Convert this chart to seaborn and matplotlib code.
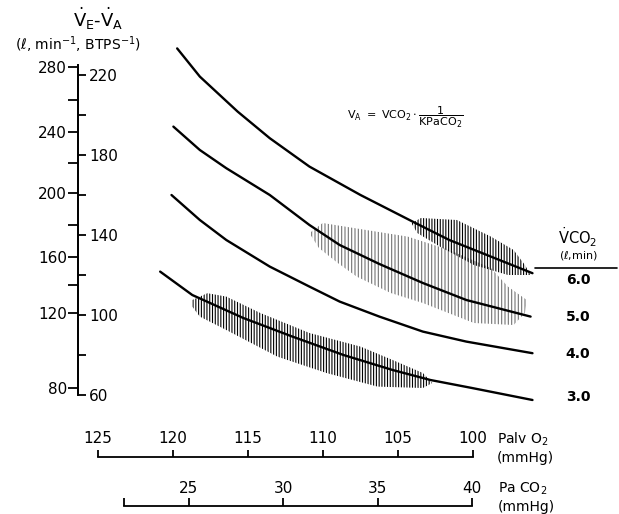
import numpy as np
import pandas as pd
import matplotlib.pyplot as plt
import seaborn as sns

# isopleths VA = VCO2 / (K * PaCO2)
# x = PaCO2 (mmHg), y = alveolar ventilation VA (l/min)
vco2_levels = ['6.0', '5.0', '4.0', '3.0']
paco2_60 = [24.4, 25.6, 27.6, 29.3, 31.4, 34.1, 36.9, 38.8, 41.0, 43.2]
va_60 = [233.3, 219.2, 201.7, 188.4, 174.2, 160.0, 146.5, 137.5, 129.2, 120.9]
paco2_50 = [24.2, 25.6, 27.0, 29.3, 31.4, 33.0, 35.1, 37.4, 39.7, 43.1]
va_50 = [194.2, 182.5, 173.4, 160.0, 145.0, 135.0, 125.5, 116.0, 107.5, 99.2]
paco2_40 = [24.1, 25.6, 27.0, 29.3, 31.4, 33.0, 35.1, 37.4, 39.7, 43.2]
va_40 = [160.0, 147.5, 137.5, 124.2, 114.2, 106.7, 99.2, 91.7, 86.7, 80.9]
paco2_30 = [23.5, 25.2, 27.9, 30.5, 33.2, 35.8, 37.8, 40.0, 43.2]
va_30 = [121.7, 110.0, 98.5, 89.2, 80.0, 72.5, 67.5, 63.5, 57.5]

# hatched data clouds (outlines)
cloud_low_x = [25.2, 26.0, 27.0, 28.8, 31.4, 34.1, 35.8, 37.4, 37.9, 37.4, 35.0, 32.3, 29.7, 27.0, 25.6, 25.2]
cloud_low_y = [107.5, 110.9, 109.2, 101.0, 91.0, 84.2, 77.5, 71.0, 66.0, 63.5, 64.2, 71.0, 79.2, 92.5, 99.2, 104.2]
cloud_mid_x = [31.4, 32.1, 34.4, 36.6, 38.8, 41.0, 41.9, 42.9, 42.8, 42.2, 40.1, 37.4, 35.7, 33.9, 32.9, 31.9]
cloud_mid_y = [140.9, 146.0, 142.5, 139.2, 132.5, 123.5, 114.2, 107.5, 101.0, 95.0, 96.0, 106.0, 111.0, 119.2, 126.0, 133.5]
cloud_top_x = [36.8, 37.3, 39.2, 41.0, 42.2, 42.8, 43.1, 41.9, 40.1, 38.3, 37.1]
cloud_top_y = [145.9, 148.5, 147.5, 139.2, 132.5, 125.0, 120.0, 120.0, 125.0, 134.2, 141.0]

# scales
va_ticks = [60, 100, 140, 180, 220]
va_minor = [80, 120, 160, 200]
ve_ticks = [80, 120, 160, 200, 240, 280]
ve_on_va = [63.5, 101.0, 129.0, 161.0, 191.5, 224.0]
ve_minor = [140, 180, 220, 260]
palv_ticks = [125, 120, 115, 110, 105, 100]
paco2_ticks = [25, 30, 35, 40]

sns.set_style('white', rc={'axes.edgecolor': 'black', 'text.color': 'black',
                           'xtick.color': 'black', 'ytick.color': 'black'})
plt.rcParams['font.family'] = ['DejaVu Sans']
plt.rcParams['hatch.linewidth'] = 0.8

W, H = 619, 514
fig = plt.figure(figsize=(W / 100, H / 100), dpi=100)


# pixel calibration of the drawing
def to_x(px):
    return 40 + (px - 472) / 18.9


def to_y(py):
    return 100 + (315 - py) / 2


def palv_pos(p):
    return to_x(473 + (100 - p) * 15)


xlim = (to_x(0), to_x(W))
ylim = (to_y(H), to_y(0))


def layer():
    a = fig.add_axes([0, 0, 1, 1])
    a.patch.set_visible(False)
    for s in a.spines.values():
        s.set_visible(False)
    a.set_xticks([])
    a.set_yticks([])
    a.set_xlim(xlim)
    a.set_ylim(ylim)
    return a


ax = layer()
rows = []
for lvl, xs, ys in zip(vco2_levels, [paco2_60, paco2_50, paco2_40, paco2_30], [va_60, va_50, va_40, va_30]):
    rows += [{'vco2': lvl, 'paco2': x, 'va': y} for x, y in zip(xs, ys)]
df = pd.DataFrame(rows)

hatches = [(cloud_low_x, cloud_low_y, '||||||', 'black'),
           (cloud_mid_x, cloud_mid_y, '|||||', '0.45'),
           (cloud_top_x, cloud_top_y, '||||||', 'black')]
for xs, ys, h, c in hatches:
    ax.fill(xs, ys, facecolor='none', edgecolor=c, hatch=h, linewidth=0, zorder=1)

sns.lineplot(data=df, x='paco2', y='va', units='vco2', estimator=None, sort=False,
             color='black', linewidth=1.7, legend=False, ax=ax, zorder=3)
ax.set_xlabel('')
ax.set_ylabel('')
ax.set_xlim(xlim)
ax.set_ylim(ylim)

# vertical double scale
ax_va = layer()
sp = ax_va.spines['right']
sp.set_visible(True)
sp.set_position(('data', to_x(78)))
sp.set_bounds(60, 225)
sp.set_linewidth(1.3)
ax_va.yaxis.tick_right()
ax_va.set_yticks(va_ticks, labels=[str(v) for v in va_ticks])
ax_va.set_yticks(va_minor, minor=True)
ax_va.tick_params(axis='y', which='both', direction='out', length=6, width=1.3, pad=2, labelsize=11)

ax_ve = layer()
sp = ax_ve.spines['left']
sp.set_visible(True)
sp.set_position(('data', to_x(78)))
sp.set_bounds(60, 225)
sp.set_linewidth(1.3)
ax_ve.yaxis.tick_left()
ax_ve.set_yticks(ve_on_va, labels=[str(v) for v in ve_ticks])
ax_ve.set_yticks(np.interp(ve_minor, ve_ticks, ve_on_va), minor=True)
ax_ve.tick_params(axis='y', which='both', direction='out', length=7, width=1.3, pad=1, labelsize=11)

# bottom scales
ax_p = layer()
sp = ax_p.spines['top']
sp.set_visible(True)
sp.set_position(('data', to_y(457)))
sp.set_bounds(palv_pos(125), palv_pos(100))
sp.set_linewidth(1.3)
ax_p.xaxis.tick_top()
ax_p.set_xticks([palv_pos(p) for p in palv_ticks], labels=[str(p) for p in palv_ticks])
ax_p.tick_params(axis='x', direction='out', length=5, width=1.3, pad=3, labelsize=11)

ax_c = layer()
sp = ax_c.spines['top']
sp.set_visible(True)
sp.set_position(('data', to_y(505.5)))
sp.set_bounds(to_x(124), 40)
sp.set_linewidth(1.3)
ax_c.xaxis.tick_top()
ax_c.set_xticks(paco2_ticks, labels=[str(c) for c in paco2_ticks])
ax_c.set_xticks([to_x(124)], minor=True)
ax_c.tick_params(axis='x', which='both', direction='out', length=6, width=1.3, pad=1, labelsize=11)


def ftext(px, py, s, **kw):
    fig.text(px / W, 1 - py / H, s, **kw)


ftext(98, 19, r'$\dot{\rm V}_{\rm E}$-$\dot{\rm V}_{\rm A}$', ha='center', va='center', fontsize=13)
ftext(78, 45, r'($\ell$, min$^{-1}$, BTPS$^{-1}$)', ha='center', va='center', fontsize=10)
ftext(347, 117, r'$\rm V_A\ =\ VCO_2\cdot\dfrac{1}{KPaCO_2}$', ha='left', va='center', fontsize=8)
ftext(578, 237, r'$\dot{\rm V}$CO$_2$', ha='center', va='center', fontsize=10.5)
ftext(578, 256, r'($\ell$,min)', ha='center', va='center', fontsize=8)
ax.axhline(to_y(268), xmin=535 / W, xmax=617 / W, color='black', linewidth=1.2)
for lbl, py in zip(vco2_levels, [280, 317, 354, 397]):
    ftext(578, py, lbl, ha='center', va='center', fontsize=10, fontweight='bold')

ftext(497, 439, r'Palv O$_2$', ha='left', va='center', fontsize=10)
ftext(497, 458, '(mmHg)', ha='left', va='center', fontsize=10)
ftext(498, 489, r'Pa CO$_2$', ha='left', va='center', fontsize=10)
ftext(498, 507, '(mmHg)', ha='left', va='center', fontsize=10)

fig.savefig('out.png', dpi=100)
